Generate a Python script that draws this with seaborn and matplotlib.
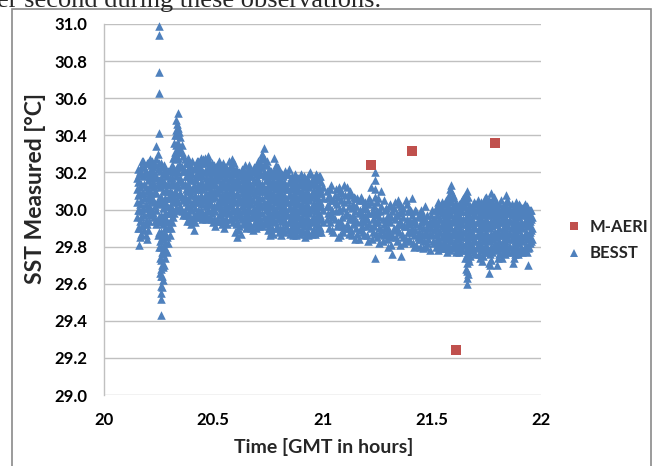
import matplotlib
matplotlib.use("Agg")
import matplotlib.pyplot as plt
from matplotlib.lines import Line2D
from matplotlib.patches import Rectangle
import pandas as pd
import seaborn as sns

# ---------------- data ----------------
maeri_time = [21.22, 21.41, 21.61, 21.79]
maeri_sst = [30.24, 30.315, 29.24, 30.36]

segA_time = [20.15, 20.16, 20.17, 20.18, 20.19, 20.20, 20.21, 20.22, 20.23, 20.24, 20.25,
             20.26, 20.27, 20.28, 20.29, 20.30, 20.31, 20.32, 20.33, 20.34, 20.35, 20.36]
segA_sst = [
    [29.96, 30.04, 30.11, 30.17],
    [29.81, 29.9, 30.0, 30.09, 30.19],
    [29.87, 29.96, 30.05, 30.14, 30.23],
    [29.92, 30.01, 30.09, 30.18, 30.26],
    [29.86, 29.94, 30.03, 30.12, 30.21],
    [29.89, 29.98, 30.07, 30.16, 30.25],
    [29.97, 30.05, 30.13, 30.21, 30.27],
    [29.99, 30.06, 30.13, 30.2, 30.26],
    [29.96, 30.04, 30.12, 30.19, 30.25],
    [29.92, 30.0, 30.09, 30.18, 30.27, 30.34],
    [29.8, 29.88, 29.96, 30.06, 30.16, 30.25, 30.41, 30.63, 30.74, 30.94, 30.99],
    [29.43, 29.52, 29.55, 29.59, 29.64, 29.68, 29.73, 29.8, 29.88, 29.97, 30.07, 30.17, 30.25],
    [29.62, 29.69, 29.76, 29.84, 29.92, 30.01, 30.1, 30.19],
    [29.74, 29.82, 29.9, 29.98, 30.06, 30.14, 30.22],
    [29.77, 29.85, 29.93, 30.02, 30.1, 30.18],
    [29.86, 29.94, 30.02, 30.1, 30.17],
    [29.93, 30.01, 30.09, 30.17, 30.24],
    [29.98, 30.06, 30.14, 30.22, 30.29, 30.36],
    [30.01, 30.09, 30.18, 30.27, 30.35, 30.43, 30.48],
    [30.04, 30.12, 30.2, 30.28, 30.36, 30.44, 30.52],
    [30.02, 30.09, 30.17, 30.24, 30.31, 30.39],
    [29.97, 30.05, 30.13, 30.21, 30.29],
]
segA2_time = [20.155, 20.165, 20.175, 20.185, 20.195, 20.205, 20.215, 20.225, 20.235,
              20.245, 20.255, 20.265, 20.275, 20.285, 20.295, 20.305, 20.315, 20.325,
              20.335, 20.345, 20.355]
segA2_sst = [
    [29.9, 30.0, 30.08, 30.15, 30.22],
    [29.85, 29.94, 30.03, 30.12, 30.21],
    [29.91, 29.99, 30.09, 30.19, 30.26],
    [29.89, 29.97, 30.06, 30.14, 30.23],
    [29.84, 29.92, 30.01, 30.1, 30.19, 30.25],
    [29.94, 30.02, 30.1, 30.18, 30.26],
    [30.0, 30.09, 30.17, 30.24],
    [29.98, 30.05, 30.15, 30.23],
    [29.94, 30.02, 30.1, 30.17, 30.24],
    [29.86, 29.95, 30.04, 30.13, 30.22, 30.3],
    [29.66, 29.74, 29.83, 29.93, 30.03, 30.12, 30.21],
    [29.58, 29.64, 29.7, 29.77, 29.85, 29.94, 30.04, 30.14, 30.23],
    [29.7, 29.79, 29.87, 29.96, 30.05, 30.15, 30.24],
    [29.78, 29.86, 29.95, 30.03, 30.11, 30.19],
    [29.82, 29.9, 29.98, 30.06, 30.14, 30.21],
    [29.9, 29.98, 30.06, 30.14, 30.22],
    [29.96, 30.04, 30.13, 30.2, 30.28],
    [30.0, 30.1, 30.2, 30.31, 30.4],
    [30.05, 30.14, 30.23, 30.32, 30.4, 30.46],
    [30.0, 30.08, 30.16, 30.24, 30.33, 30.42],
    [29.99, 30.07, 30.15, 30.23, 30.31, 30.35],
]

segB_time = [20.37, 20.38, 20.39, 20.40, 20.41, 20.42, 20.43, 20.44, 20.45, 20.46, 20.47,
             20.48, 20.49, 20.50, 20.51, 20.52, 20.53, 20.54, 20.55, 20.56, 20.57, 20.58,
             20.59, 20.60, 20.61, 20.62, 20.63, 20.64, 20.65, 20.66, 20.67, 20.68, 20.69,
             20.70, 20.71, 20.72, 20.73, 20.74, 20.75, 20.76, 20.77, 20.78, 20.79, 20.80,
             20.81, 20.82, 20.83, 20.84, 20.85, 20.86, 20.87, 20.88, 20.89, 20.90, 20.91,
             20.92, 20.93, 20.94, 20.95, 20.96, 20.97, 20.98, 20.99, 21.00]
segB_sst = [
    [29.99, 30.07, 30.14, 30.21, 30.27],
    [29.94, 30.02, 30.1, 30.18, 30.25],
    [29.97, 30.05, 30.12, 30.19, 30.25],
    [29.92, 30.0, 30.08, 30.16, 30.23],
    [29.89, 29.97, 30.05, 30.13, 30.22],
    [29.96, 30.04, 30.11, 30.18, 30.24],
    [30.0, 30.07, 30.14, 30.21, 30.26],
    [29.97, 30.05, 30.12, 30.19, 30.26],
    [29.95, 30.03, 30.11, 30.18, 30.25],
    [29.98, 30.06, 30.13, 30.21, 30.28],
    [29.96, 30.04, 30.12, 30.2, 30.27],
    [29.99, 30.06, 30.13, 30.2, 30.26],
    [29.95, 30.03, 30.1, 30.17, 30.23],
    [29.93, 30.01, 30.08, 30.15, 30.22],
    [29.91, 29.99, 30.07, 30.14, 30.2],
    [29.94, 30.02, 30.09, 30.16, 30.22],
    [29.97, 30.04, 30.11, 30.18, 30.24],
    [29.92, 30.0, 30.08, 30.15, 30.23],
    [29.9, 29.98, 30.06, 30.14, 30.21],
    [29.95, 30.03, 30.1, 30.17, 30.23],
    [29.98, 30.05, 30.12, 30.19, 30.26],
    [29.96, 30.04, 30.11, 30.18, 30.24],
    [29.93, 30.01, 30.09, 30.16, 30.22],
    [29.88, 29.96, 30.04, 30.12, 30.19],
    [29.85, 29.93, 30.01, 30.09, 30.17],
    [29.91, 29.99, 30.06, 30.13, 30.2],
    [29.95, 30.02, 30.09, 30.16, 30.22],
    [29.93, 30.01, 30.08, 30.15, 30.21],
    [29.9, 29.98, 30.06, 30.13, 30.19],
    [29.94, 30.01, 30.08, 30.15, 30.22],
    [29.92, 29.99, 30.07, 30.14, 30.21],
    [29.89, 29.97, 30.05, 30.12, 30.2],
    [29.93, 30.0, 30.08, 30.15, 30.22],
    [29.95, 30.02, 30.1, 30.17, 30.24],
    [29.91, 29.99, 30.07, 30.15, 30.23],
    [29.94, 30.02, 30.1, 30.19, 30.27],
    [29.96, 30.04, 30.12, 30.2, 30.28, 30.33],
    [29.92, 30.0, 30.08, 30.16, 30.24],
    [29.89, 29.97, 30.05, 30.13, 30.2],
    [29.86, 29.94, 30.02, 30.1, 30.18],
    [29.9, 29.98, 30.05, 30.12, 30.19],
    [29.93, 30.0, 30.07, 30.14, 30.21, 30.28],
    [29.91, 29.98, 30.06, 30.13, 30.2],
    [29.88, 29.96, 30.03, 30.1, 30.17],
    [29.86, 29.94, 30.01, 30.09, 30.16],
    [29.9, 29.97, 30.04, 30.11, 30.18],
    [29.93, 30.0, 30.07, 30.14, 30.21],
    [29.89, 29.97, 30.04, 30.11, 30.19],
    [29.87, 29.94, 30.01, 30.08, 30.15],
    [29.91, 29.98, 30.05, 30.12, 30.18],
    [29.88, 29.95, 30.02, 30.09, 30.16],
    [29.86, 29.93, 30.0, 30.07, 30.14],
    [29.9, 29.97, 30.04, 30.11, 30.17],
    [29.92, 29.99, 30.06, 30.13, 30.19],
    [29.88, 29.95, 30.02, 30.09, 30.16],
    [29.85, 29.93, 30.0, 30.07, 30.14],
    [29.89, 29.96, 30.03, 30.1, 30.17],
    [29.91, 29.98, 30.05, 30.12, 30.19],
    [29.87, 29.94, 30.01, 30.08, 30.15],
    [29.89, 29.96, 30.03, 30.1, 30.17],
    [29.92, 29.99, 30.06, 30.13, 30.19],
    [29.88, 29.95, 30.02, 30.09, 30.16],
    [29.9, 29.97, 30.04, 30.11, 30.18],
    [29.93, 30.0, 30.06, 30.12],
]
segB2_time = [20.375, 20.385, 20.395, 20.405, 20.415, 20.425, 20.435, 20.445, 20.455,
              20.465, 20.475, 20.485, 20.495, 20.505, 20.515, 20.525, 20.535, 20.545,
              20.555, 20.565, 20.575, 20.585, 20.595, 20.605, 20.615, 20.625, 20.635,
              20.645, 20.655, 20.665, 20.675, 20.685, 20.695, 20.705, 20.715, 20.725,
              20.735, 20.745, 20.755, 20.765, 20.775, 20.785, 20.795, 20.805, 20.815,
              20.825, 20.835, 20.845, 20.855, 20.865, 20.875, 20.885, 20.895, 20.905,
              20.915, 20.925, 20.935, 20.945, 20.955, 20.965, 20.975, 20.985, 20.995]
segB2_sst = [
    [29.97, 30.04, 30.11, 30.18, 30.25],
    [29.98, 30.06, 30.14, 30.22, 30.28],
    [29.94, 30.02, 30.1, 30.17, 30.24],
    [29.95, 30.03, 30.11, 30.19, 30.26],
    [29.93, 30.01, 30.08, 30.16, 30.23],
    [29.98, 30.05, 30.12, 30.19, 30.26],
    [29.96, 30.04, 30.11, 30.18, 30.24],
    [30.0, 30.08, 30.15, 30.22, 30.28],
    [29.97, 30.05, 30.13, 30.2, 30.27],
    [29.95, 30.02, 30.09, 30.17, 30.25],
    [30.0, 30.08, 30.16, 30.23, 30.29],
    [29.96, 30.03, 30.1, 30.17, 30.23],
    [29.98, 30.06, 30.13, 30.2, 30.25],
    [29.95, 30.02, 30.1, 30.17, 30.24],
    [29.94, 30.03, 30.11, 30.18, 30.24],
    [29.97, 30.05, 30.12, 30.19, 30.26],
    [29.94, 30.01, 30.07, 30.14, 30.21],
    [29.95, 30.04, 30.12, 30.19, 30.25],
    [29.93, 30.01, 30.09, 30.17, 30.23],
    [29.92, 29.99, 30.06, 30.14, 30.21],
    [29.95, 30.02, 30.09, 30.16, 30.23],
    [29.99, 30.07, 30.14, 30.21, 30.27],
    [29.96, 30.05, 30.13, 30.2, 30.25],
    [29.92, 30.0, 30.08, 30.15, 30.22],
    [29.89, 29.97, 30.05, 30.13, 30.2],
    [29.87, 29.96, 30.04, 30.11, 30.18],
    [29.92, 29.99, 30.06, 30.13, 30.2],
    [29.96, 30.04, 30.11, 30.18, 30.24],
    [29.91, 29.96, 30.03, 30.1, 30.17],
    [29.96, 30.04, 30.11, 30.18, 30.24],
    [29.9, 29.96, 30.03, 30.1, 30.18],
    [29.92, 30.01, 30.09, 30.16, 30.23],
    [29.9, 29.97, 30.04, 30.11, 30.19],
    [29.97, 30.05, 30.13, 30.2, 30.26],
    [29.93, 30.03, 30.11, 30.19, 30.25],
    [29.91, 29.98, 30.06, 30.14, 30.23, 30.3],
    [29.94, 30.02, 30.1, 30.18, 30.25],
    [29.95, 30.03, 30.11, 30.19, 30.26],
    [29.91, 29.99, 30.08, 30.16, 30.22],
    [29.88, 29.97, 30.06, 30.14, 30.21],
    [29.87, 29.95, 30.02, 30.09, 30.16],
    [29.9, 29.97, 30.04, 30.11, 30.18, 30.24],
    [29.95, 30.02, 30.09, 30.16, 30.23],
    [29.9, 29.99, 30.06, 30.13, 30.2],
    [29.89, 29.97, 30.05, 30.12, 30.19],
    [29.88, 29.95, 30.02, 30.08, 30.15],
    [29.91, 29.98, 30.05, 30.12, 30.19],
    [29.93, 30.01, 30.08, 30.15, 30.22],
    [29.89, 29.96, 30.04, 30.11, 30.17],
    [29.86, 29.93, 30.0, 30.07, 30.14],
    [29.91, 29.98, 30.05, 30.12, 30.19],
    [29.89, 29.96, 30.03, 30.1, 30.17],
    [29.87, 29.94, 30.01, 30.08, 30.15],
    [29.89, 29.96, 30.03, 30.1, 30.17],
    [29.91, 29.98, 30.05, 30.12, 30.18],
    [29.87, 29.95, 30.02, 30.09, 30.16],
    [29.86, 29.93, 30.0, 30.07, 30.15],
    [29.93, 30.0, 30.07, 30.14, 30.2],
    [29.89, 29.96, 30.03, 30.1, 30.17],
    [29.87, 29.94, 30.01, 30.08, 30.14],
    [29.9, 29.97, 30.04, 30.11, 30.18],
    [29.91, 29.98, 30.05, 30.12, 30.18],
    [29.88, 29.95, 30.02, 30.09, 30.15],
]

segC_time = [21.02, 21.03, 21.04, 21.05, 21.06, 21.07, 21.08, 21.09, 21.10, 21.11, 21.12,
             21.13, 21.14, 21.15, 21.16, 21.17, 21.18, 21.19, 21.20, 21.21, 21.22, 21.23,
             21.24, 21.25, 21.26, 21.27, 21.28, 21.29, 21.30, 21.31, 21.32, 21.33, 21.34,
             21.35, 21.36, 21.37, 21.38, 21.39, 21.40, 21.41, 21.42, 21.43, 21.44, 21.45,
             21.46, 21.47, 21.48, 21.49, 21.50, 21.51]
segC_sst = [
    [29.95, 30.1, 30.02], [30.02, 29.9, 30.08], [30.13, 29.97, 30.05], [29.88, 30.05, 29.96],
    [30.11, 29.99, 30.04], [29.93, 30.07, 29.85], [30.0, 29.86, 30.1], [30.09, 29.96, 29.91],
    [29.9, 30.04, 30.13], [30.12, 29.98, 29.92], [29.87, 30.02, 30.09], [29.95, 30.08, 29.89],
    [29.92, 30.03, 29.97], [29.84, 29.99, 30.06], [30.06, 29.93, 29.87], [29.89, 30.0, 30.05],
    [29.97, 30.05, 29.91], [29.86, 29.94, 30.01], [30.01, 29.91, 29.96], [29.83, 29.98, 30.03],
    [29.9, 30.04, 30.12], [29.95, 29.88, 30.0], [29.74, 29.93, 30.07, 30.11, 30.16, 30.2],
    [29.85, 29.99, 30.04], [29.96, 29.82, 29.9], [30.02, 29.89, 30.1], [29.92, 30.05, 29.86],
    [29.87, 30.01, 29.95], [29.97, 29.8, 29.9], [29.93, 30.03, 29.85], [29.86, 29.99, 29.76],
    [29.95, 30.04, 29.89], [29.9, 29.83, 29.97], [29.98, 29.88, 30.03], [30.02, 29.92, 29.75],
    [29.85, 29.96, 30.01], [29.91, 30.05, 29.84], [29.88, 29.99, 29.93], [29.83, 29.94, 30.0],
    [29.9, 29.97, 30.06], [29.86, 29.95, 29.8], [29.81, 29.92, 29.99], [29.88, 29.97, 29.84],
    [29.84, 29.93, 30.0], [29.79, 29.9, 29.96], [29.86, 29.95, 30.02], [29.9, 29.82, 29.97],
    [29.78, 29.87, 29.94], [29.86, 29.93, 30.0], [29.89, 29.95, 29.82],
]
segC2_time = [21.025, 21.035, 21.045, 21.055, 21.065, 21.075, 21.085, 21.095, 21.105,
              21.115, 21.125, 21.135, 21.145, 21.155, 21.165, 21.175, 21.185, 21.195,
              21.205, 21.215, 21.225, 21.235, 21.245, 21.255, 21.265, 21.275, 21.285,
              21.295, 21.305, 21.315, 21.325, 21.335, 21.345, 21.355, 21.365, 21.375,
              21.385, 21.395, 21.405, 21.415, 21.425, 21.435, 21.445, 21.455, 21.465,
              21.475, 21.485, 21.495, 21.505]
segC2_sst = [
    [29.98, 30.06], [29.93, 30.11], [30.0, 29.89], [30.08, 29.95], [29.91, 30.03],
    [30.0, 30.12], [29.93, 30.05], [29.88, 30.01], [29.97, 30.08], [29.9, 30.05],
    [29.96, 30.1], [29.86, 30.01], [29.95, 30.07], [29.9, 30.02], [29.98, 29.84],
    [29.94, 30.07], [29.88, 30.01], [29.97, 30.04], [29.86, 29.95], [29.92, 30.06],
    [29.84, 29.98], [29.91, 30.02], [29.87, 29.97], [29.93, 30.06], [29.87, 29.99],
    [29.83, 29.95], [29.9, 30.0], [29.84, 29.94], [29.88, 30.02], [29.81, 29.96],
    [29.9, 30.01], [29.85, 29.97], [29.92, 30.05], [29.81, 29.94], [29.87, 29.99],
    [29.91, 29.82], [29.95, 30.03], [29.84, 29.92], [29.88, 29.99], [29.82, 29.93],
    [29.89, 30.0], [29.85, 29.96], [29.8, 29.91], [29.87, 29.98], [29.83, 29.94],
    [29.88, 29.8], [29.84, 29.92], [29.9, 29.97], [29.83, 29.92],
]

segD_time = [21.52, 21.53, 21.54, 21.55, 21.56, 21.57, 21.58, 21.59, 21.60, 21.61, 21.62,
             21.63, 21.64, 21.65, 21.66, 21.67, 21.68, 21.69, 21.70, 21.71, 21.72, 21.73,
             21.74, 21.75, 21.76, 21.77, 21.78, 21.79, 21.80, 21.81, 21.82, 21.83, 21.84,
             21.85, 21.86, 21.87, 21.88, 21.89, 21.90, 21.91, 21.92, 21.93, 21.94, 21.95,
             21.96]
segD_sst = [
    [29.8, 29.87, 29.94, 30.0],
    [29.78, 29.85, 29.92, 29.99, 30.04],
    [29.82, 29.88, 29.95, 30.02],
    [29.79, 29.86, 29.93, 30.0],
    [29.81, 29.88, 29.95, 30.03],
    [29.77, 29.84, 29.91, 29.98, 30.05],
    [29.8, 29.87, 29.94, 30.01, 30.08],
    [29.83, 29.9, 29.97, 30.04, 30.1, 30.13],
    [29.79, 29.86, 29.93, 30.0, 30.06],
    [29.77, 29.84, 29.91, 29.98, 30.03],
    [29.8, 29.87, 29.94, 30.0],
    [29.82, 29.89, 29.96, 30.02],
    [29.78, 29.85, 29.92, 29.99, 30.05],
    [29.74, 29.81, 29.88, 29.95, 30.02, 30.08],
    [29.6, 29.63, 29.67, 29.71, 29.76, 29.83, 29.9, 29.97, 30.04, 30.1],
    [29.72, 29.79, 29.86, 29.93, 30.0],
    [29.78, 29.85, 29.92, 29.99],
    [29.8, 29.87, 29.94, 30.01],
    [29.76, 29.83, 29.9, 29.97, 30.03],
    [29.79, 29.86, 29.93, 30.0, 30.05],
    [29.74, 29.81, 29.88, 29.95, 30.02],
    [29.72, 29.8, 29.87, 29.94, 30.01],
    [29.77, 29.84, 29.91, 29.98, 30.04],
    [29.81, 29.88, 29.95, 30.02, 30.07],
    [29.66, 29.71, 29.78, 29.85, 29.92, 29.99, 30.05],
    [29.73, 29.8, 29.87, 29.94, 30.01, 30.09],
    [29.79, 29.86, 29.93, 30.0, 30.06],
    [29.82, 29.88, 29.95, 30.01],
    [29.7, 29.78, 29.85, 29.92, 29.98],
    [29.76, 29.83, 29.9, 29.97, 30.03],
    [29.74, 29.8, 29.87, 29.94, 30.0],
    [29.79, 29.86, 29.93, 29.99],
    [29.81, 29.88, 29.95, 30.01, 30.08],
    [29.77, 29.84, 29.91, 29.98, 30.04],
    [29.8, 29.87, 29.94, 30.0],
    [29.71, 29.78, 29.85, 29.92, 29.99],
    [29.76, 29.83, 29.9, 29.97, 30.02],
    [29.79, 29.86, 29.93, 30.0],
    [29.77, 29.84, 29.91, 29.98, 30.03],
    [29.8, 29.87, 29.94, 30.0],
    [29.78, 29.85, 29.92, 29.98, 30.02],
    [29.81, 29.88, 29.95, 30.01],
    [29.7, 29.79, 29.86, 29.93, 29.99],
    [29.82, 29.88, 29.94, 30.0],
    [29.84, 29.9, 29.96],
]
segD2_time = [21.525, 21.535, 21.545, 21.555, 21.565, 21.575, 21.585, 21.595, 21.605,
              21.615, 21.625, 21.635, 21.645, 21.655, 21.665, 21.675, 21.685, 21.695,
              21.705, 21.715, 21.725, 21.735, 21.745, 21.755, 21.765, 21.775, 21.785,
              21.795, 21.805, 21.815, 21.825, 21.835, 21.845, 21.855, 21.865, 21.875,
              21.885, 21.895, 21.905, 21.915, 21.925, 21.935, 21.945, 21.955]
segD2_sst = [
    [29.83, 29.9, 29.97, 30.02],
    [29.8, 29.88, 29.95, 30.01],
    [29.79, 29.85, 29.91, 29.98, 30.04],
    [29.83, 29.9, 29.97, 30.03],
    [29.79, 29.85, 29.92, 29.99, 30.05],
    [29.81, 29.88, 29.95, 30.02],
    [29.78, 29.85, 29.91, 29.98, 30.05, 30.11],
    [29.81, 29.88, 29.95, 30.02, 30.08],
    [29.82, 29.89, 29.96, 30.03],
    [29.8, 29.87, 29.94, 30.01],
    [29.77, 29.84, 29.91, 29.97, 30.03],
    [29.79, 29.86, 29.93, 29.99, 30.04],
    [29.81, 29.88, 29.95, 30.02, 30.06],
    [29.68, 29.78, 29.85, 29.92, 29.99, 30.06],
    [29.65, 29.74, 29.8, 29.87, 29.94, 30.01, 30.07],
    [29.75, 29.82, 29.89, 29.96, 30.02],
    [29.81, 29.88, 29.95, 30.02],
    [29.77, 29.84, 29.91, 29.98, 30.04],
    [29.8, 29.86, 29.93, 30.0],
    [29.76, 29.83, 29.9, 29.97, 30.03],
    [29.78, 29.85, 29.91, 29.98, 30.04],
    [29.75, 29.83, 29.9, 29.97, 30.03],
    [29.8, 29.87, 29.94, 30.01, 30.06],
    [29.77, 29.84, 29.91, 29.98, 30.04],
    [29.7, 29.76, 29.83, 29.9, 29.97, 30.03],
    [29.77, 29.84, 29.91, 29.97, 30.04],
    [29.8, 29.87, 29.94, 30.02, 30.07],
    [29.79, 29.85, 29.92, 29.98, 30.04],
    [29.74, 29.81, 29.88, 29.95, 30.01],
    [29.79, 29.86, 29.93, 29.99, 30.05],
    [29.77, 29.83, 29.9, 29.97, 30.02],
    [29.76, 29.83, 29.9, 29.96, 30.03],
    [29.78, 29.85, 29.91, 29.98, 30.05],
    [29.8, 29.87, 29.94, 30.01],
    [29.77, 29.84, 29.9, 29.97, 30.03],
    [29.74, 29.81, 29.88, 29.95, 30.01],
    [29.79, 29.86, 29.93, 29.99, 30.04],
    [29.76, 29.82, 29.89, 29.96, 30.02],
    [29.78, 29.85, 29.92, 29.99, 30.02],
    [29.77, 29.83, 29.9, 29.97, 30.01],
    [29.8, 29.86, 29.93, 30.0, 30.03],
    [29.77, 29.84, 29.91, 29.97, 30.02],
    [29.8, 29.86, 29.92, 29.98],
    [29.83, 29.89, 29.95, 30.0],
]

x_ticks = [20, 20.5, 21, 21.5, 22]
x_tick_labels = ["20", "20.5", "21", "21.5", "22"]
y_ticks = [29.0, 29.2, 29.4, 29.6, 29.8, 30.0, 30.2, 30.4, 30.6, 30.8, 31.0]

# ---------------- build frame ----------------
rows = []
for tl, vl in [(segA_time, segA_sst), (segA2_time, segA2_sst),
               (segB_time, segB_sst), (segB2_time, segB2_sst),
               (segC_time, segC_sst), (segC2_time, segC2_sst),
               (segD_time, segD_sst), (segD2_time, segD2_sst)]:
    assert len(tl) == len(vl), (len(tl), len(vl))
    for t, vals in zip(tl, vl):
        for v in vals:
            rows.append((t, v))
besst = pd.DataFrame(rows, columns=["time", "sst"])
maeri = pd.DataFrame({"time": maeri_time, "sst": maeri_sst})

# ---------------- plot ----------------
sns.set_theme(style="white")
plt.rcParams["font.family"] = ["Lato", "DejaVu Sans"]

W, H = 655, 466
fig = plt.figure(figsize=(W / 100, H / 100), dpi=100)
L, R, T, B = 104, 541, 24, 395
ax = fig.add_axes([L / W, 1 - B / H, (R - L) / W, (B - T) / H])

blue = "#4F81BD"
red = "#C0504D"
sns.scatterplot(data=besst, x="time", y="sst", marker="^", s=38, color=blue,
                linewidth=0, ax=ax, clip_on=False, zorder=3)
sns.scatterplot(data=maeri, x="time", y="sst", marker="s", s=44, color=red,
                linewidth=0, ax=ax, clip_on=False, zorder=4)

ax.set_xlim(20, 22)
ax.set_ylim(29, 31)
ax.set_xticks(x_ticks)
ax.set_xticklabels(x_tick_labels)
ax.set_yticks(y_ticks)
ax.set_yticklabels([f"{v:.1f}" for v in y_ticks])
ax.tick_params(axis="both", length=0, labelsize=12, colors="black")
ax.tick_params(axis="y", pad=12)
ax.tick_params(axis="x", pad=12)
for lab in ax.get_xticklabels() + ax.get_yticklabels():
    lab.set_fontweight("bold")

ax.grid(False)
for y in y_ticks:
    ax.axhline(y, color="#C0C0C0", lw=1.0, zorder=1)
for s in ["top", "right", "bottom"]:
    ax.spines[s].set_visible(False)
ax.spines["left"].set_color("#C0C0C0")
ax.spines["left"].set_linewidth(1.0)
ax.set_xlabel("")
ax.set_ylabel("")

fig.text(36 / W, 1 - 189 / H, "SST Measured [°C]", rotation=90, ha="center",
         va="center", fontsize=16.5, fontweight="bold")
fig.text(324 / W, 1 - 447 / H, "Time [GMT in hours]", ha="center", va="center",
         fontsize=14, fontweight="bold")

handles = [Line2D([], [], marker="s", ls="none", color=red, markersize=5.5, markeredgewidth=0),
           Line2D([], [], marker="^", ls="none", color=blue, markersize=6, markeredgewidth=0)]
fig.legend(handles, ["M-AERI", "BESST"], loc="center left",
           bbox_to_anchor=(566 / W, 1 - 240 / H), frameon=False,
           prop={"weight": "bold", "size": 12}, handlelength=1.0,
           handletextpad=0.4, labelspacing=0.65, borderaxespad=0, borderpad=0)

# surrounding frame and clipped document text
fig.patches.append(Rectangle((12 / W, -0.1), (651 - 12) / W, 1.1 - 8.5 / H,
                             transform=fig.transFigure, fill=False,
                             edgecolor="#8A8A8A", lw=1.2))
fig.text(-3 / W, 1 - 7.5 / H, "er second during these observations.",
         fontfamily="Liberation Serif", fontsize=19, va="baseline", ha="left")

fig.savefig("out.png", dpi=100)
